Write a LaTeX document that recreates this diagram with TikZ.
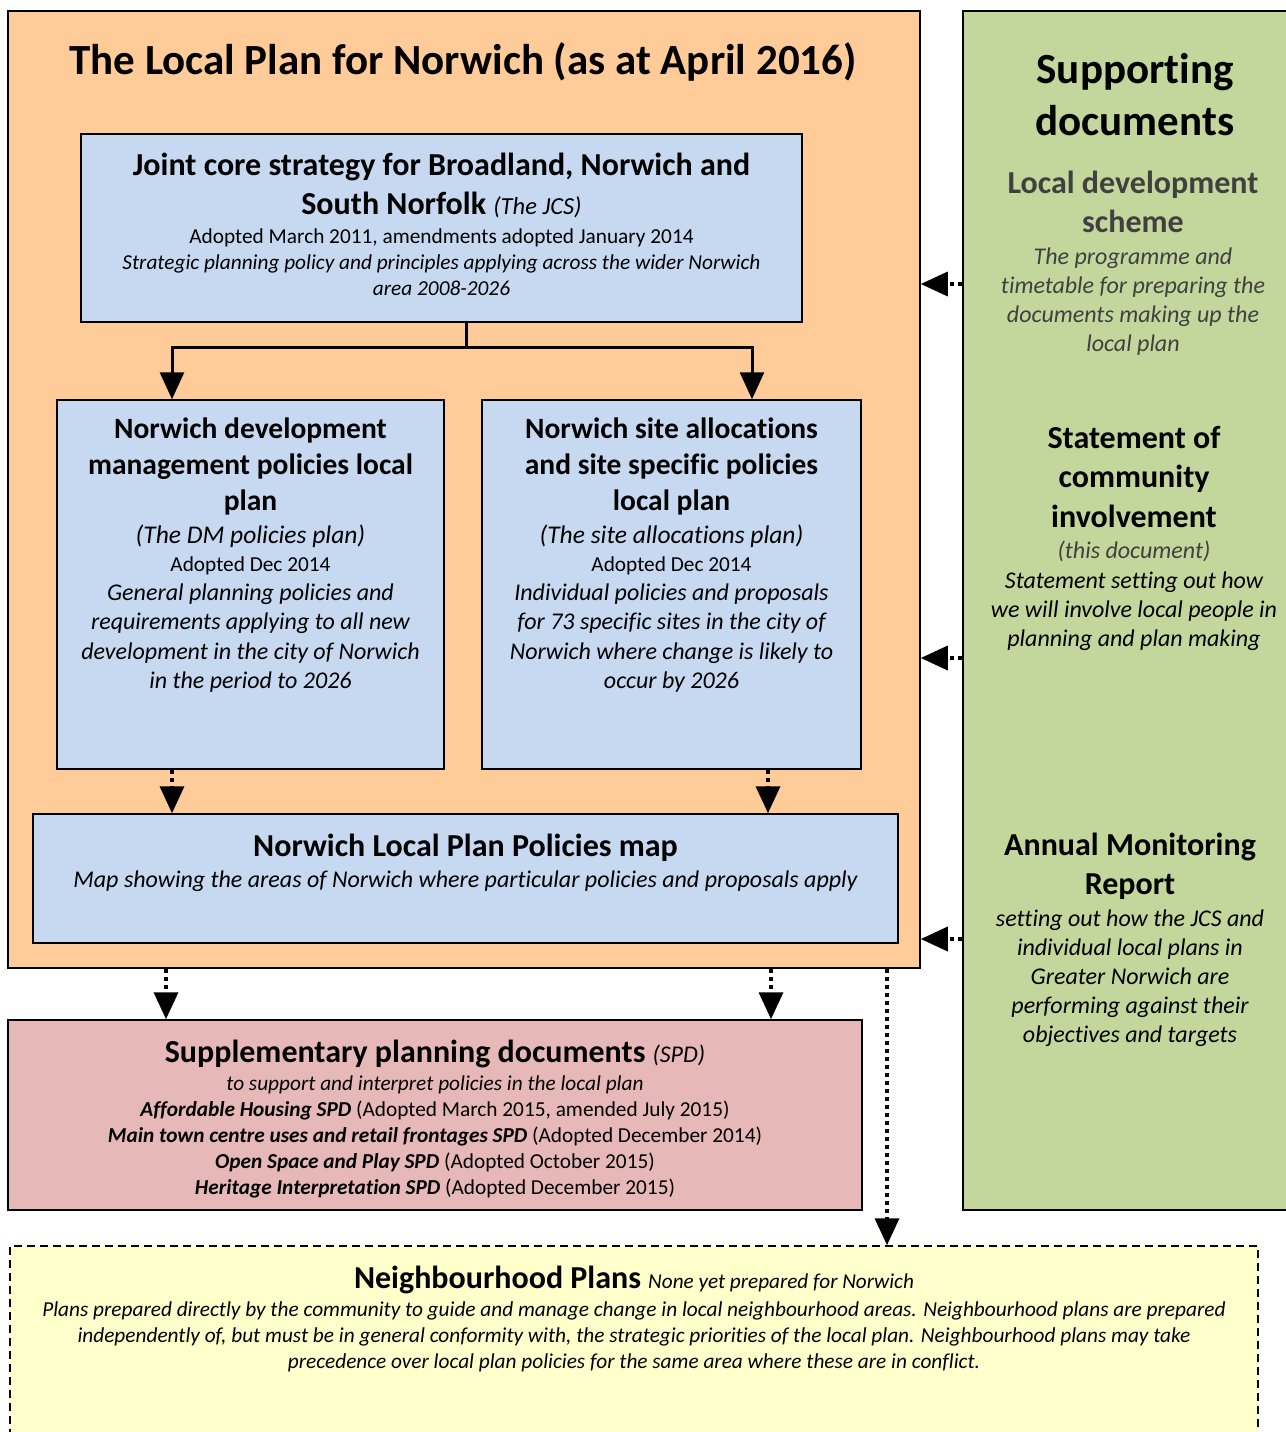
\documentclass[tikz,border=0pt]{standalone}
\usepackage{fontspec}
\setmainfont[Ligatures=NoCommon]{Carlito}
\usetikzlibrary{arrows.meta}
\definecolor{planorange}{HTML}{FFCB99}
\definecolor{planblue}{HTML}{C6D9F1}
\definecolor{supgreen}{HTML}{C3D69B}
\definecolor{spdpink}{HTML}{E6B9B8}
\definecolor{nbyellow}{HTML}{FFFFCC}
\definecolor{darkgrey}{HTML}{404040}
\newcommand{\fs}[2]{\fontsize{#1}{#2}\selectfont}

\begin{document}
\begin{tikzpicture}[x=1pt,y=-1pt,
	box/.style={draw, line width=1.5pt, inner sep=0pt},
	txt/.style={align=center, inner sep=0pt, anchor=base},
	solidarrow/.style={line width=3pt, -{Triangle[width=24pt,length=27pt]}},
	dotarrow/.style={line width=3.5pt, dash pattern=on 4pt off 4pt, -{Triangle[width=24pt,length=27pt]}}]
	\useasboundingbox (0,0) rectangle (1285,1432);

	% boxes
	\node[box, fill=planorange, minimum width=912pt, minimum height=957pt] (lp) at (464,489.5) {};
	\node[box, fill=supgreen, minimum width=340pt, minimum height=1199pt] (sd) at (1133,610.5) {};
	\node[box, fill=planblue, minimum width=721pt, minimum height=188pt] (jcs) at (441.5,228) {};
	\node[box, fill=planblue, minimum width=387pt, minimum height=369pt] (dm) at (250.5,584.5) {};
	\node[box, fill=planblue, minimum width=379pt, minimum height=369pt] (sa) at (671.5,584.5) {};
	\node[box, fill=planblue, minimum width=865pt, minimum height=129pt] (map) at (465.5,878.5) {};
	\node[box, fill=spdpink, minimum width=854pt, minimum height=190pt] (spd) at (435,1115) {};
	\node[box, fill=nbyellow, dash pattern=on 8pt off 5pt, minimum width=1248pt, minimum height=220pt] (np) at (634,1356) {};

	% texts (base = last line)
	\node[txt, font=\bfseries\fs{43}{52}] (lpT) at (463,74) {The Local Plan for Norwich (as at April 2016)};

	\node[txt, font=\bfseries\fs{32}{39}] (jcsT) at (441.5,214) {Joint core strategy for Broadland, Norwich and\\South Norfolk {\mdseries\itshape\fs{24.5}{39}(The JCS)}};
	\node[txt, font=\fs{21.3}{26}] (jcsS) at (441.5,295) {Adopted March 2011, amendments adopted January 2014\\\itshape Strategic planning policy and principles applying across the wider Norwich\\\itshape area 2008-2026};

	\node[txt, font=\bfseries\fs{29.5}{36}] (dmT) at (250.5,510.5) {Norwich development\\management policies local\\plan};
	\node[txt, font=\itshape\fs{25.5}{29}] (dmN) at (250.5,543) {(The DM policies plan)};
	\node[txt, font=\fs{21.3}{29}] (dmA) at (250.5,571) {Adopted Dec 2014};
	\node[txt, font=\itshape\fs{24}{29.3}] (dmS) at (250.5,688.5) {General planning policies and\\requirements applying to all new\\development in the city of Norwich\\in the period to 2026};

	\node[txt, font=\bfseries\fs{29.5}{36}] (saT) at (671.5,510.5) {Norwich site allocations\\and site specific policies\\local plan};
	\node[txt, font=\itshape\fs{25.5}{29}] (saN) at (671.5,543) {(The site allocations plan)};
	\node[txt, font=\fs{21.3}{29}] (saA) at (671.5,571) {Adopted Dec 2014};
	\node[txt, font=\itshape\fs{24}{29.3}] (saS) at (671.5,688.5) {Individual policies and proposals\\for 73 specific sites in the city of\\Norwich where change is likely to\\occur by 2026};

	\node[txt, font=\bfseries\fs{32}{39}] (mapT) at (465.5,856) {Norwich Local Plan Policies map};
	\node[txt, font=\itshape\fs{24}{29}] (mapS) at (465.5,887) {Map showing the areas of Norwich where particular policies and proposals apply};

	\node[txt, font=\bfseries\fs{32}{39}] (spdT) at (435,1062) {Supplementary planning documents {\mdseries\itshape\fs{24}{39}(SPD)}};
	\node[txt, font=\fs{21.3}{26}] (spdS) at (435,1194) {\itshape to support and interpret policies in the local plan\\
		{\bfseries\itshape Affordable Housing SPD} (Adopted March 2015, amended July 2015)\\
		{\bfseries\itshape Main town centre uses and retail frontages SPD} (Adopted December 2014)\\
		{\bfseries\itshape Open Space and Play SPD} (Adopted October 2015)\\
		{\bfseries\itshape Heritage Interpretation SPD} (Adopted December 2015)};

	\node[txt, font=\bfseries\fs{32}{39}] (npT) at (634,1288) {Neighbourhood Plans {\mdseries\itshape\fs{21.2}{39}None yet prepared for Norwich}};
	\node[txt, font=\itshape\fs{21.3}{26}] (npS) at (634,1368) {Plans prepared directly by the community to guide and manage change in local neighbourhood areas. Neighbourhood plans are prepared\\
		\itshape independently of, but must be in general conformity with, the strategic priorities of the local plan. Neighbourhood plans may take\\
		\itshape precedence over local plan policies for the same area where these are in conflict.};

	\node[txt, font=\bfseries\fs{43}{52}] (sdT) at (1135,135) {Supporting\\documents};
	\node[txt, font=\bfseries\fs{32}{39}, text=darkgrey] (ldsT) at (1133,232) {Local development\\scheme};
	\node[txt, font=\itshape\fs{24}{29}, text=darkgrey] (ldsS) at (1133,351) {The programme and\\\itshape timetable for preparing the\\\itshape documents making up the\\\itshape local plan};
	\node[txt, font=\bfseries\fs{32}{39.5}] (sciT) at (1134,527) {Statement of\\community\\involvement};
	\node[txt, font=\itshape\fs{24}{29}, text=darkgrey] (sciN) at (1134,558) {(this document)};
	\node[txt, font=\itshape\fs{24}{29}] (sciS) at (1134,646) {Statement setting out how\\\itshape we will involve local people in\\\itshape planning and plan making};
	\node[txt, font=\bfseries\fs{32}{39}] (amrT) at (1130,894) {Annual Monitoring\\Report};
	\node[txt, font=\itshape\fs{24}{29}] (amrS) at (1130,1042) {setting out how the JCS and\\\itshape individual local plans in\\\itshape Greater Norwich are\\\itshape performing against their\\\itshape objectives and targets};

	% connectors
	\coordinate (split) at (466,347);
	\coordinate (forkL) at (172,347);
	\coordinate (forkR) at (752,347);
	\draw[line width=3pt] (jcs.south -| split) -- (split);
	\draw[solidarrow] (split) -- (forkL) -- (forkL |- dm.north);
	\draw[solidarrow] (split) -- (forkR) -- (forkR |- sa.north);

	\coordinate (mapR) at (768,0);
	\draw[dotarrow] (dm.south -| forkL) -- (map.north -| forkL);
	\draw[dotarrow] (sa.south -| mapR) -- (map.north -| mapR);

	\coordinate (spdL) at (166,0);
	\coordinate (spdR) at (771,0);
	\coordinate (npX) at (887,0);
	\draw[dotarrow] (lp.south -| spdL) -- (spd.north -| spdL);
	\draw[dotarrow] (lp.south -| spdR) -- (spd.north -| spdR);
	\draw[dotarrow] (lp.south -| npX) -- (np.north -| npX);

	\coordinate (ldsY) at (0,284);
	\coordinate (sciY) at (0,658);
	\coordinate (amrY) at (0,939);
	\draw[dotarrow] (sd.west |- ldsY) -- (lp.east |- ldsY);
	\draw[dotarrow] (sd.west |- sciY) -- (lp.east |- sciY);
	\draw[dotarrow] (sd.west |- amrY) -- (lp.east |- amrY);
\end{tikzpicture}
\end{document}
